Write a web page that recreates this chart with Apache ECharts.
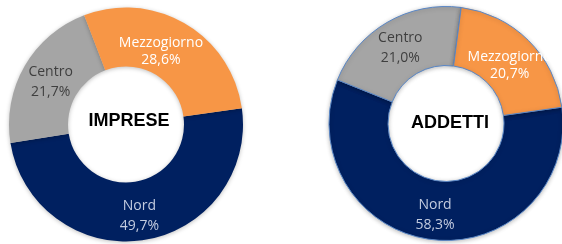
<!DOCTYPE html>
<html>
<head>
<meta charset="utf-8">
<script src="https://cdn.jsdelivr.net/npm/echarts@6/dist/echarts.min.js"></script>
<style>
  html, body { margin: 0; padding: 0; background: #fff; }
  #chart { width: 562px; height: 244px; }
</style>
</head>
<body>
<div id="chart"></div>
<script>
const categories = ["Nord", "Centro", "Mezzogiorno"];
const impreseValues = [49.7, 21.7, 28.6];
const addettiValues = [58.3, 21.0, 20.7];
const titles = ["IMPRESE", "ADDETTI"];

const colors = ["#002060", "#A5A5A5", "#F79646"];
const labelColors = ["#C3CCE0", "#3F3F3F", "#FFFFFF"];

// small nudges so labels sit where Excel put them
const impreseOffsets = [[0, 2], [3, 3], [-11, 5]];
const addettiOffsets = [[0, 2], [0, 3], [0, 6]];

const fmt = (v) => v.toFixed(1).replace(".", ",") + "%";

const buildData = (values, offsets) =>
  values.map((v, i) => ({
    name: categories[i],
    value: v,
    itemStyle: { color: colors[i] },
    label: {
      color: labelColors[i],
      fontWeight: i === 2 ? 500 : 400,
      lineHeight: i === 2 ? 17 : 20,
      offset: offsets[i],
    },
  }));

const pieSeries = (values, offsets, center, border) => ({
  type: "pie",
  center: center,
  radius: [58, 117],
  startAngle: 8,
  clockwise: true,
  silent: true,
  animation: false,
  avoidLabelOverlap: false,
  itemStyle: {
    borderColor: border ? "#5A87C6" : "transparent",
    borderWidth: border ? 1 : 0,
    shadowBlur: 4,
    shadowColor: "rgba(0,0,0,0.25)",
    shadowOffsetY: 1,
  },
  label: {
    show: true,
    position: "inside",
    overflow: "none",
    fontFamily: "Open Sans",
    fontSize: 14,
    formatter: (p) => p.name + "\n" + fmt(p.value),
  },
  labelLine: { show: false },
  data: buildData(values, offsets),
});

const chart = echarts.init(document.getElementById("chart"), null, { renderer: "canvas" });

const titleStyle = { fontFamily: "Liberation Sans", fontWeight: "bold", fontSize: 18, color: "#000" };

chart.setOption({
  backgroundColor: "#fff",
  title: [
    {
      text: titles[0],
      left: 129,
      top: 121.5,
      padding: 0,
      textAlign: "center",
      textVerticalAlign: "middle",
      textStyle: titleStyle,
    },
    {
      text: titles[1],
      left: 450,
      top: 123,
      padding: 0,
      textAlign: "center",
      textVerticalAlign: "middle",
      textStyle: titleStyle,
    },
  ],
  series: [
    pieSeries(impreseValues, impreseOffsets, [126, 124.5], false),
    pieSeries(addettiValues, addettiOffsets, [446, 123.5], true),
  ],
});
</script>
</body>
</html>
